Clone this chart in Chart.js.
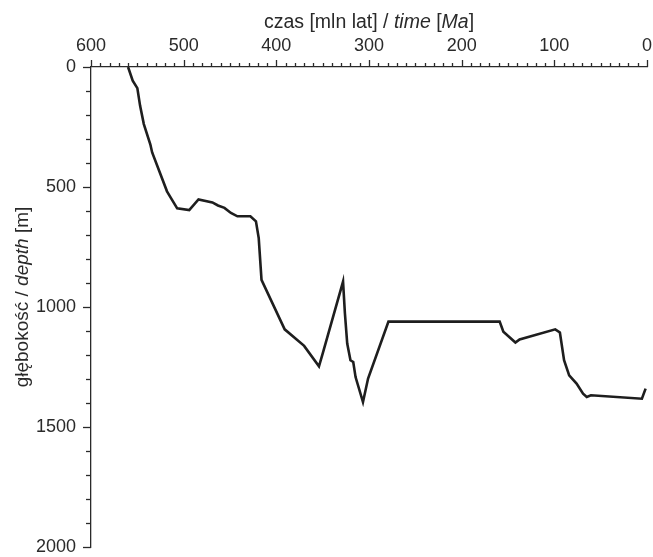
<!DOCTYPE html>
<html>
<head>
<meta charset="utf-8">
<script src="https://cdn.jsdelivr.net/npm/chart.js@4"></script>
<style>
  html, body { margin: 0; padding: 0; background: #fff; }
  #wrap { width: 653px; height: 557px; }
</style>
</head>
<body>
<div id="wrap"><canvas id="burialChart"></canvas></div>
<script>
// dane: wiek [Ma] i głębokość [m]
const ageMa = [560, 555, 550, 547, 543, 536, 534, 518, 514, 507, 494, 484, 469, 463, 456, 449, 442, 428, 422, 419, 416,
  391, 370, 354, 350, 328, 326, 323.5, 320, 317, 314.5, 306.5, 301, 279, 159, 155, 142, 137.5, 99, 94, 89.5, 84, 76, 69, 65, 60.5, 5.5, 1.5]
const depthM = [0, 57, 88, 162, 238, 322, 356, 518, 544, 589, 596, 552, 564, 577, 587, 608, 622, 622, 643, 713, 887,
  1093, 1162, 1247, 1194, 894, 1026, 1152, 1222, 1229, 1292, 1396, 1298, 1061, 1061, 1103, 1148, 1135, 1093, 1106, 1222, 1285, 1319, 1361, 1375, 1368, 1382, 1340]

// osie
const xTicksMajor = [600, 500, 400, 300, 200, 100, 0]
const yTicksMajor = [0, 500, 1000, 1500, 2000]

const FONT = '"Liberation Sans", Arial, sans-serif'
const INK = '#2a2a2a'

// tytuły z kursywą (mieszane style)
function drawMixed(ctx, parts, size) {
    let total = 0
    for (const p of parts) {
        ctx.font = (p.it ? 'italic ' : '') + size + 'px ' + FONT
        total += ctx.measureText(p.t).width
    }
    let x = -total / 2
    for (const p of parts) {
        ctx.font = (p.it ? 'italic ' : '') + size + 'px ' + FONT
        ctx.fillText(p.t, x, 0)
        x += ctx.measureText(p.t).width
    }
}

const axesPlugin = {
    id: 'axesExtra',
    afterDraw(chart) {
        const ctx = chart.ctx
        const xs = chart.scales.x
        const ys = chart.scales.y
        const area = chart.chartArea
        ctx.save()
        ctx.strokeStyle = INK
        ctx.lineWidth = 1.3
        // podziałka czasu (co 10 Ma), skierowana w górę
        for (let v = 0; v <= 600; v += 10) {
            const px = Math.round(xs.getPixelForValue(v)) + 0.5
            const len = v % 100 === 0 ? 7 : 4
            ctx.beginPath()
            ctx.moveTo(px, area.top)
            ctx.lineTo(px, area.top - len)
            ctx.stroke()
        }
        // podziałka głębokości (co 100 m), w lewo
        for (let v = 0; v <= 2000; v += 100) {
            const py = Math.round(ys.getPixelForValue(v)) + 0.5
            const len = v % 500 === 0 ? 8 : 5
            ctx.beginPath()
            ctx.moveTo(area.left, py)
            ctx.lineTo(area.left - len, py)
            ctx.stroke()
        }
        // tytuły
        ctx.fillStyle = INK
        ctx.textBaseline = 'middle'
        ctx.textAlign = 'left'
        ctx.save()
        ctx.translate((area.left + area.right) / 2, 23)
        drawMixed(ctx, [
            { t: 'czas [mln lat] / ' }, { t: 'time', it: true }, { t: ' [' }, { t: 'Ma', it: true }, { t: ']' }
        ], 19.5)
        ctx.restore()
        ctx.save()
        ctx.translate(23, 297)
        ctx.rotate(-Math.PI / 2)
        drawMixed(ctx, [
            { t: 'głębokość / ' }, { t: 'depth', it: true }, { t: ' [m]' }
        ], 19)
        ctx.restore()
        ctx.restore()
    }
}

const dataBurial = {
    datasets: [{
        data: ageMa.map((a, i) => ({ x: a, y: depthM[i] })),
        showLine: true,
        borderColor: '#1e1e1e',
        borderWidth: 2.6,
        pointRadius: 0,
        fill: false,
        tension: 0
    }]
}

const optionsBurial = {
    responsive: false,
    animation: false,
    layout: { padding: { top: 0, left: 0, right: 6, bottom: 10 } },
    plugins: {
        legend: { display: false },
        tooltip: { enabled: false }
    },
    scales: {
        x: {
            type: 'linear',
            position: 'top',
            reverse: true,
            min: 0,
            max: 600,
            afterFit: s => { s.height = 67; s.paddingLeft = 0; s.paddingRight = 0 },
            afterBuildTicks: s => { s.ticks = xTicksMajor.map(v => ({ value: v })) },
            grid: { display: false, drawTicks: false },
            border: { display: true, color: INK, width: 1.3 },
            ticks: { padding: 10, color: INK, font: { family: FONT, size: 18 }, maxRotation: 0, callback: v => String(v) }
        },
        y: {
            type: 'linear',
            reverse: true,
            min: 0,
            max: 2000,
            afterFit: s => { s.width = 91; s.paddingTop = 0; s.paddingBottom = 0 },
            afterBuildTicks: s => { s.ticks = yTicksMajor.map(v => ({ value: v })) },
            grid: { display: false, drawTicks: false },
            border: { display: true, color: INK, width: 1.3 },
            ticks: { padding: 15, color: INK, font: { family: FONT, size: 18 }, callback: v => String(v) }
        }
    }
}

const canvas = document.getElementById('burialChart')
canvas.width = 653
canvas.height = 557
const burialChart = new Chart(canvas.getContext('2d'), {
    type: 'scatter',
    data: dataBurial,
    options: optionsBurial,
    plugins: [axesPlugin]
})
</script>
</body>
</html>
